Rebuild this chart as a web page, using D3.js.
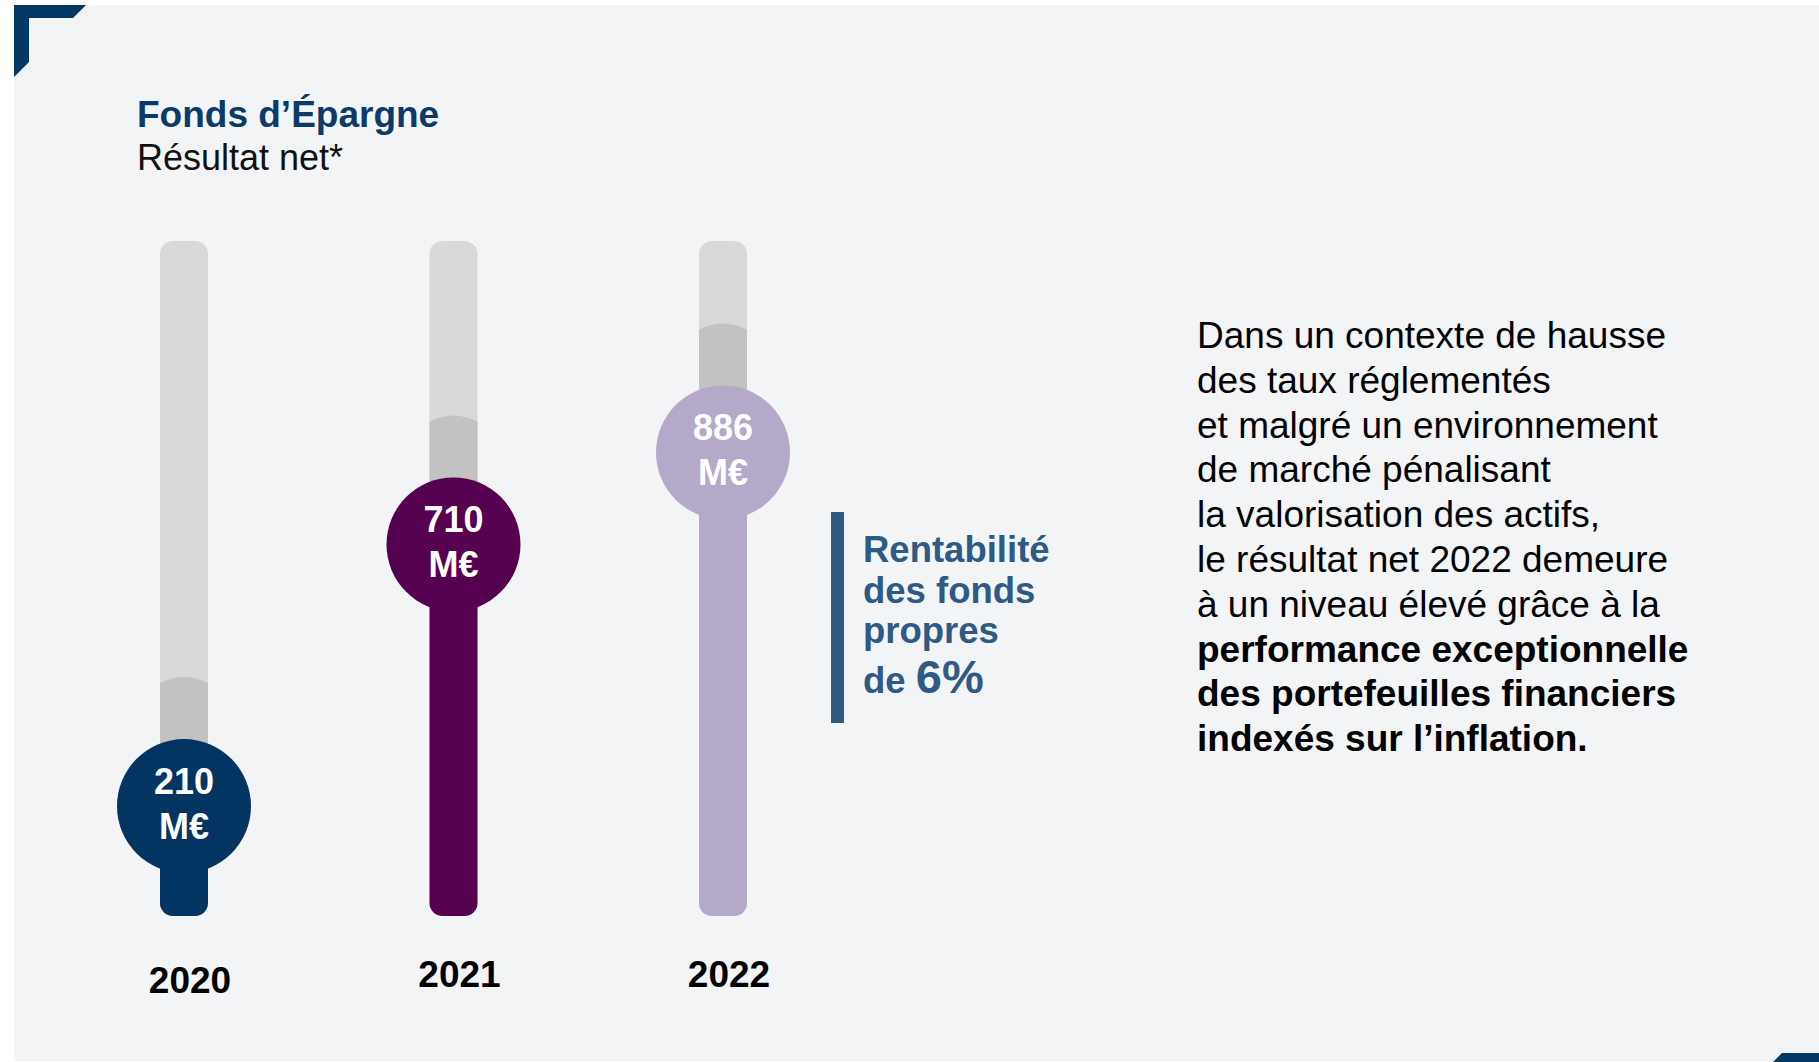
<!DOCTYPE html>
<html>
<head>
<meta charset="utf-8">
<script src="https://cdn.jsdelivr.net/npm/d3@7"></script>
<style>
  body { margin: 0; background: #ffffff; }
  text { font-family: "Liberation Sans", Arial, sans-serif; }
</style>
</head>
<body>
<div id="placeholder"></div>
<script>
// data
var years = ["2020", "2021", "2022"];
var values = [210, 710, 886];
var unitLabel = "M€";
var colors = ["#033563", "#560050", "#b4a9c8"];

var title = "Fonds d’Épargne";
var subtitle = "Résultat net*";

var roeLines = ["Rentabilité", "des fonds", "propres"];
var roePrefix = "de ";
var roeValue = "6%";

var commentLines = [
  "Dans un contexte de hausse",
  "des taux réglementés",
  "et malgré un environnement",
  "de marché pénalisant",
  "la valorisation des actifs,",
  "le résultat net 2022 demeure",
  "à un niveau élevé grâce à la"
];
var commentBold = [
  "performance exceptionnelle",
  "des portefeuilles financiers",
  "indexés sur l’inflation."
];

// set the dimensions
var width = 1819;
var height = 1062;

var trackTop = 241;
var trackBottom = 916;
var barWidth = 48;
var radius = 67;

var svg = d3.select("#placeholder")
  .append("svg")
  .attr("width", width)
  .attr("height", height);

// panel background
svg.append("rect")
  .attr("x", 14).attr("y", 5)
  .attr("width", width - 14).attr("height", 1056)
  .attr("fill", "#f3f4f6");

// corner brackets
svg.append("path")
  .attr("d", "M14,5 L86,5 L73,18 L29,18 L29,62 L14,77 Z")
  .attr("fill", "#033865");
svg.append("path")
  .attr("d", "M1773,1062 L1782,1053 L1819,1053 L1819,1062 Z")
  .attr("fill", "#033865");

// titles
svg.append("text")
  .attr("x", 137).attr("y", 127)
  .attr("fill", "#0b3a6b")
  .style("font-size", "37px")
  .style("font-weight", "bold")
  .text(title);
svg.append("text")
  .attr("x", 137).attr("y", 170)
  .attr("fill", "#111111")
  .style("font-size", "36px")
  .text(subtitle);

// scales
var x = d3.scalePoint()
  .domain(years)
  .range([184, 723]);

var y = d3.scaleLinear()
  .domain([0, 1290])
  .range([trackBottom, trackTop]);

var data = years.map(function(d, i) {
  return { year: d, value: values[i], color: colors[i] };
});

var g = svg.selectAll("g.bar")
  .data(data)
  .enter()
  .append("g")
  .attr("class", "bar");

// grey track
g.append("rect")
  .attr("x", function(d) { return x(d.year) - barWidth / 2; })
  .attr("y", trackTop)
  .attr("width", barWidth)
  .attr("height", trackBottom - trackTop)
  .attr("rx", 13)
  .attr("fill", "#d9d9d9");

// darker shade above the bubble
g.append("path")
  .attr("d", function(d) {
    var cx = x(d.year), cy = y(d.value);
    var top = cy - radius - 62;
    var x0 = cx - barWidth / 2, x1 = cx + barWidth / 2;
    return "M" + x0 + "," + (top + 6) +
      " Q" + cx + "," + (top - 6) + " " + x1 + "," + (top + 6) +
      " L" + x1 + "," + cy + " L" + x0 + "," + cy + " Z";
  })
  .attr("fill", "#c2c2c2");

// coloured stem
g.append("rect")
  .attr("x", function(d) { return x(d.year) - barWidth / 2; })
  .attr("y", function(d) { return y(d.value); })
  .attr("width", barWidth)
  .attr("height", function(d) { return trackBottom - y(d.value); })
  .attr("rx", 13)
  .attr("fill", function(d) { return d.color; });

// bubble
g.append("circle")
  .attr("cx", function(d) { return x(d.year); })
  .attr("cy", function(d) { return y(d.value); })
  .attr("r", radius)
  .attr("fill", function(d) { return d.color; });

g.append("text")
  .attr("x", function(d) { return x(d.year); })
  .attr("y", function(d) { return y(d.value) - 12; })
  .attr("text-anchor", "middle")
  .attr("fill", "#ffffff")
  .style("font-size", "36px")
  .style("font-weight", "bold")
  .text(function(d) { return d.value; });

g.append("text")
  .attr("x", function(d) { return x(d.year); })
  .attr("y", function(d) { return y(d.value) + 33; })
  .attr("text-anchor", "middle")
  .attr("fill", "#ffffff")
  .style("font-size", "36px")
  .style("font-weight", "bold")
  .text(unitLabel);

// year labels
g.append("text")
  .attr("x", function(d) { return x(d.year) + 6; })
  .attr("y", function(d, i) { return i == 0 ? 993 : 987; })
  .attr("text-anchor", "middle")
  .attr("fill", "#000000")
  .style("font-size", "37px")
  .style("font-weight", "bold")
  .text(function(d) { return d.year; });

// return on equity callout
svg.append("rect")
  .attr("x", 831).attr("y", 512)
  .attr("width", 13).attr("height", 211)
  .attr("fill", "#2e5a85");

svg.selectAll("text.roe")
  .data(roeLines)
  .enter()
  .append("text")
  .attr("class", "roe")
  .attr("x", 863)
  .attr("y", function(d, i) { return 562 + i * 40.5; })
  .attr("fill", "#2e5a85")
  .style("font-size", "36.5px")
  .style("font-weight", "bold")
  .text(function(d) { return d; });

var last = svg.append("text")
  .attr("x", 863).attr("y", 693)
  .attr("fill", "#2e5a85")
  .style("font-weight", "bold");
last.append("tspan").style("font-size", "36.5px").text(roePrefix);
last.append("tspan").style("font-size", "47px").text(roeValue);

// comment paragraph
var allLines = commentLines.map(function(d) { return { t: d, b: false }; })
  .concat(commentBold.map(function(d) { return { t: d, b: true }; }));

svg.selectAll("text.comment")
  .data(allLines)
  .enter()
  .append("text")
  .attr("class", "comment")
  .attr("x", 1197)
  .attr("y", function(d, i) { return 348 + i * 44.8; })
  .attr("fill", "#000000")
  .style("font-size", "37px")
  .style("font-weight", function(d) { return d.b ? "bold" : "normal"; })
  .text(function(d) { return d.t; });
</script>
</body>
</html>
